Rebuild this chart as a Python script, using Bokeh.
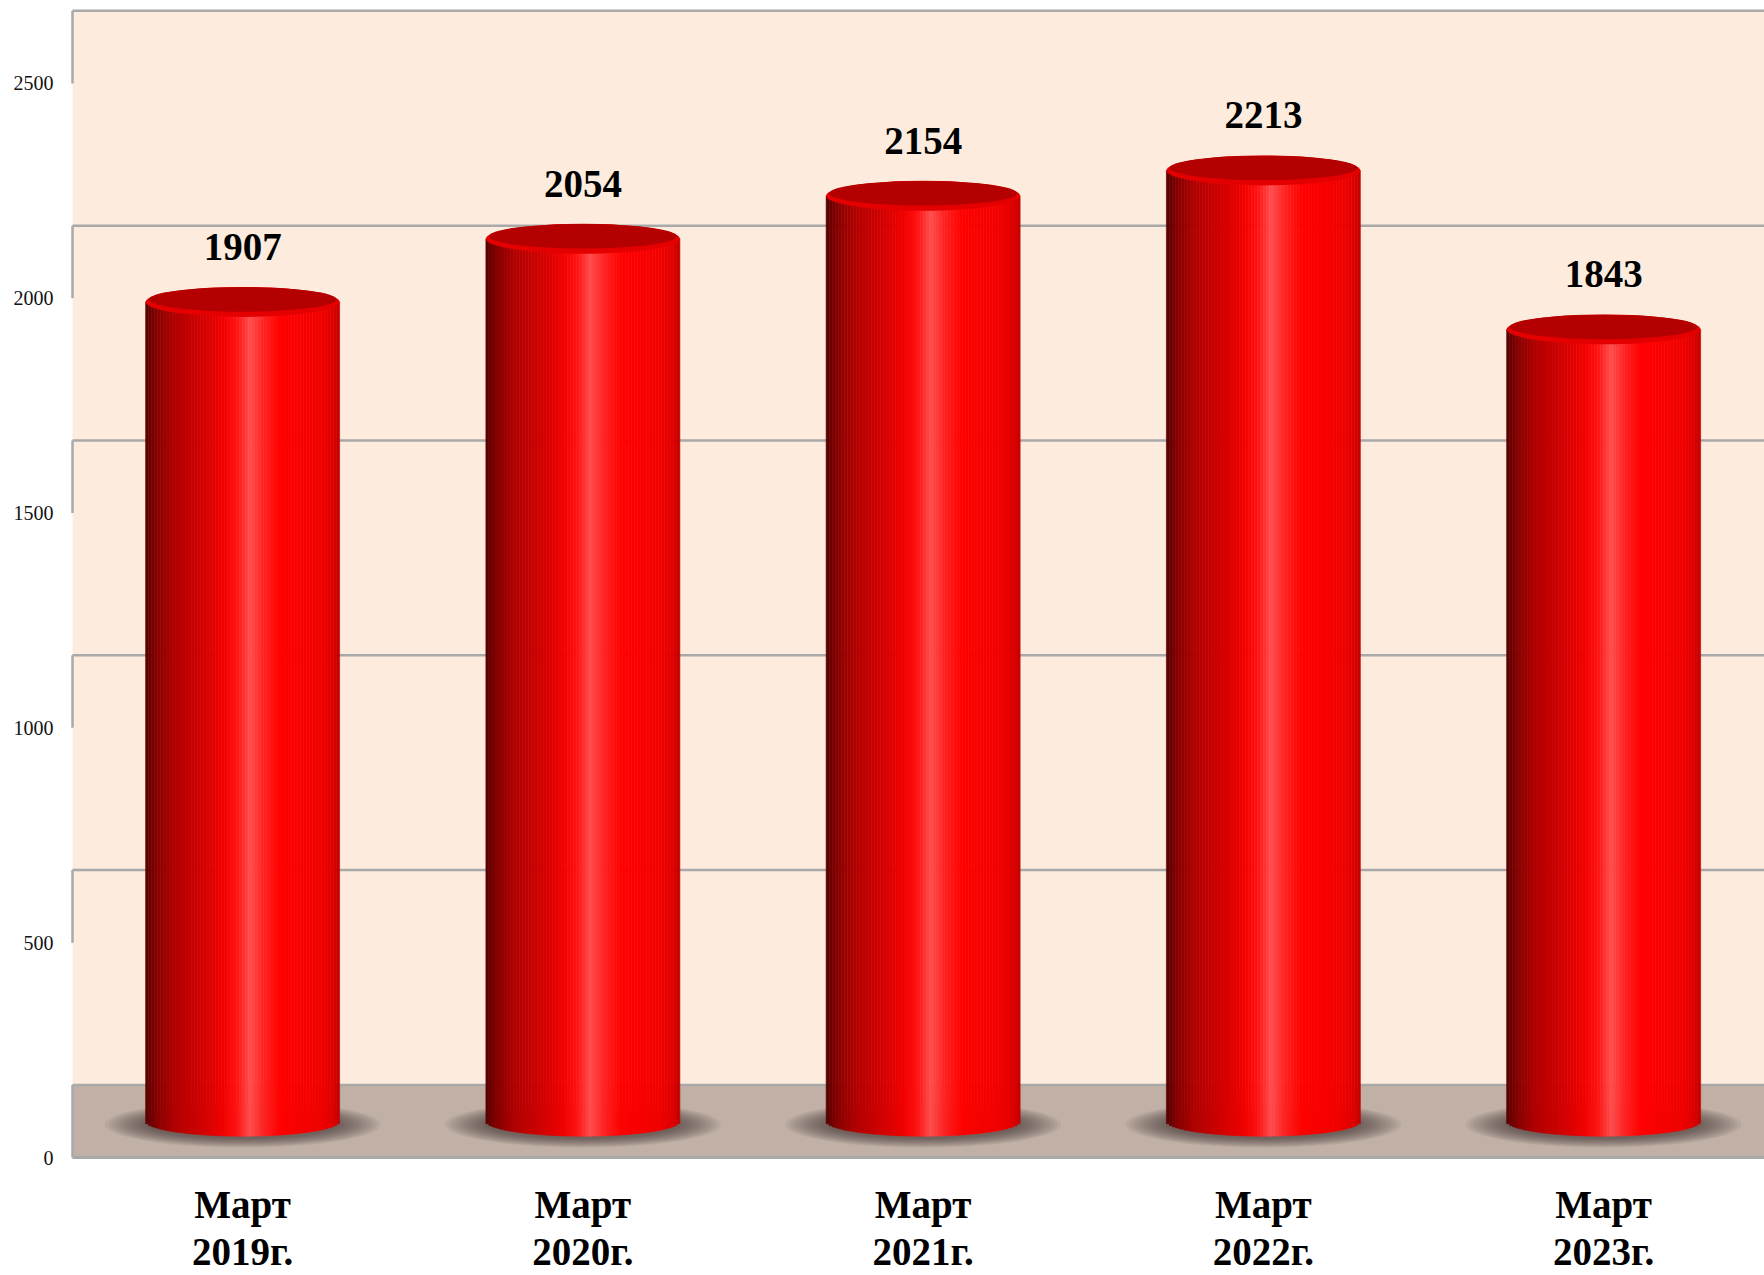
import numpy as np
from bokeh.plotting import figure
from bokeh.models import Range1d, FixedTicker
from bokeh.core.properties import value
from bokeh.embed import file_html
from bokeh.resources import INLINE

# ---- data ----
categories = ["Март\n2019г.", "Март\n2020г.", "Март\n2021г.", "Март\n2022г.", "Март\n2023г."]
values = [1907, 2054, 2154, 2213, 1843]
y_ticks = [0, 500, 1000, 1500, 2000, 2500]

# ---- geometry / style ----
W, H = 1764, 1275
LEFT, BOTTOM = 70, 115
ZERO_Y = 1158.0       # pixel row of value 0 (front plane)
PXY = 0.43            # px per value unit
PXX = 340.25          # px per category
DEPTH = 169.0         # floor depth in value units (vertical offset of back wall)
MID = DEPTH / 2.0
BAR_HALF = 97.0 / PXX
ELL_B = 15.0 / PXY    # semi-minor axis of cylinder ellipses (value units)

plot_h = H - BOTTOM
y_top = ZERO_Y / PXY
y_bot = y_top - plot_h / PXY
x_start = -0.5 - 2.0 / PXX
x_end = x_start + (W - LEFT) / PXX

p = figure(width=W, height=H, output_backend="svg", toolbar_location=None,
           x_range=Range1d(x_start, x_end), y_range=Range1d(y_bot, y_top),
           min_border_left=LEFT, min_border_right=0, min_border_top=0,
           min_border_bottom=BOTTOM)
p.xgrid.visible = False
p.ygrid.visible = False
p.outline_line_color = None
p.background_fill_color = "white"
p.border_fill_color = "white"

top_wall = DEPTH + max(y_ticks)

# back wall and floor
p.quad(left=[-0.5], right=[x_end + 1], bottom=[DEPTH], top=[top_wall],
       fill_color="#fdecdd", line_color=None)
p.quad(left=[-0.5], right=[x_end + 1], bottom=[0], top=[DEPTH],
       fill_color="#c0b0a5", line_color=None)

# gridlines on back wall
grid_y = [t + DEPTH for t in y_ticks]
p.segment(x0=[-0.5] * len(grid_y), x1=[x_end + 1] * len(grid_y), y0=grid_y, y1=grid_y,
          line_color="#a9a9a9", line_width=2.5)
# left wall edges
p.segment(x0=[-0.5] * len(y_ticks), x1=[-0.5] * len(y_ticks), y0=y_ticks, y1=grid_y,
          line_color="#a9a9a9", line_width=2.5)
# floor front edge
p.segment(x0=[-0.5], x1=[x_end + 1], y0=[0], y1=[0], line_color="#a8a8a8", line_width=3)

xs = np.arange(len(values), dtype=float)

# shadows (soft, built from stacked translucent ellipses)
n_sh = 12
for k in range(n_sh):
    f = k / (n_sh - 1)
    w_px = 276 - 80 * f
    h_px = 46 - 18 * f
    p.ellipse(x=xs, y=[(ZERO_Y - 1125) / PXY] * len(xs), width=w_px / PXX, height=h_px / PXY,
              fill_color="#3a2f2a", fill_alpha=0.065, line_color=None)

# cylinder body gradient
stops = [(0.00, (85, 0, 0)), (0.06, (135, 0, 0)), (0.15, (178, 0, 0)), (0.30, (212, 0, 0)),
         (0.40, (242, 0, 0)), (0.47, (255, 18, 18)), (0.54, (255, 78, 78)), (0.61, (255, 35, 35)),
         (0.70, (255, 0, 0)), (0.90, (242, 0, 0)), (0.97, (222, 0, 0)), (1.00, (190, 0, 0))]
su = np.array([s[0] for s in stops])
sc = np.array([s[1] for s in stops], dtype=float)

N = 64
left, right, bottom, top, colors = [], [], [], [], []
for cx, v in zip(xs, values):
    for j in range(N):
        u = (j + 0.5) / N
        t = 2 * u - 1
        rgb = [int(round(np.interp(u, su, sc[:, c]))) for c in range(3)]
        left.append(cx - BAR_HALF + j * 2 * BAR_HALF / N)
        right.append(cx - BAR_HALF + (j + 1) * 2 * BAR_HALF / N)
        bottom.append(MID - ELL_B * np.sqrt(max(0.0, 1 - t * t)))
        top.append(v + MID)
        colors.append("#%02x%02x%02x" % tuple(rgb))
p.quad(left=left, right=right, bottom=bottom, top=top, fill_color=colors,
       line_color=colors, line_width=0.6)

# cylinder tops
tops = [v + MID for v in values]
p.ellipse(x=xs, y=tops, width=2 * BAR_HALF, height=2 * ELL_B,
          fill_color="#e40000", line_color=None)
p.ellipse(x=xs, y=[t + 2.5 / PXY for t in tops], width=2 * BAR_HALF - 6 / PXX,
          height=2 * ELL_B - 5.5 / PXY, fill_color="#b40000", line_color=None)

# value labels
p.text(x=xs, y=[v + 213 for v in values], text=[str(v) for v in values],
       text_font=value("Liberation Serif"), text_font_style="bold", text_font_size="39px",
       text_align="center", text_baseline="middle", text_color="black")

# axes
p.yaxis.ticker = FixedTicker(ticks=y_ticks)
p.yaxis.axis_line_color = None
p.yaxis.major_tick_line_color = None
p.yaxis.minor_tick_line_color = None
p.yaxis.major_tick_out = 0
p.yaxis.major_label_standoff = 17
p.yaxis.major_label_text_font = "Liberation Serif"
p.yaxis.major_label_text_font_size = "20px"
p.yaxis.major_label_text_color = "#111111"

p.xaxis.ticker = FixedTicker(ticks=list(range(len(categories))))
p.xaxis.major_label_overrides = {i: c for i, c in enumerate(categories)}
p.xaxis.axis_line_color = None
p.xaxis.major_tick_line_color = None
p.xaxis.minor_tick_line_color = None
p.xaxis.major_tick_out = 0
p.xaxis.major_label_standoff = 23
p.xaxis.major_label_text_font = "Liberation Serif"
p.xaxis.major_label_text_font_style = "bold"
p.xaxis.major_label_text_font_size = "39px"
p.xaxis.major_label_text_line_height = 1.1
p.xaxis.major_label_text_color = "black"

open("out.html", "w").write(file_html(p, INLINE))
